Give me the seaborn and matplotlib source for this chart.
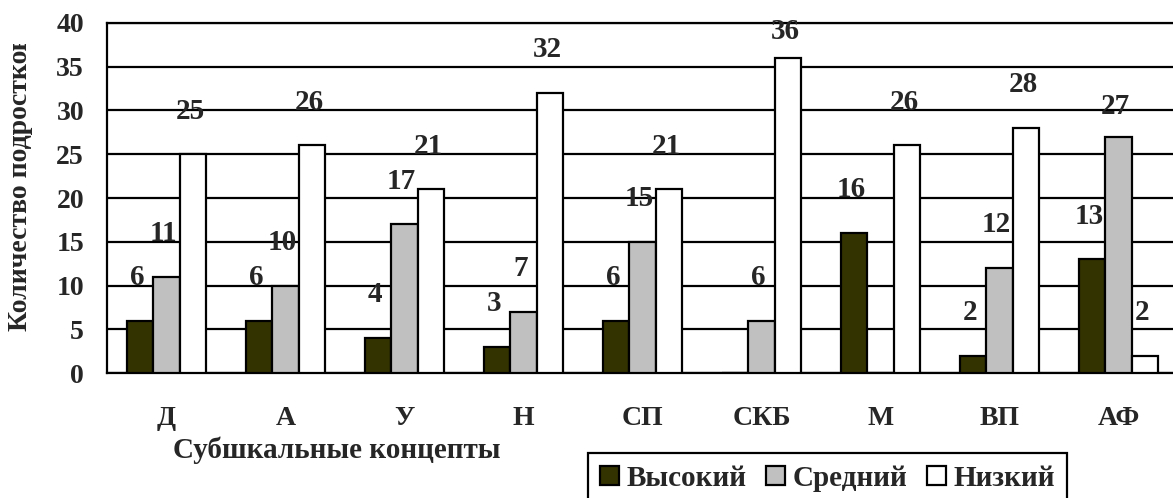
import matplotlib
matplotlib.use("Agg")
import matplotlib.pyplot as plt
from matplotlib.transforms import Bbox, TransformedBbox
import seaborn as sns
import pandas as pd

# Subscale concepts and counts of adolescents per level
concepts = ["Д", "А", "У", "Н", "СП", "СКБ", "М", "ВП", "АФ"]
levels = ["Высокий", "Средний", "Низкий"]
high = [6, 6, 4, 3, 6, 0, 16, 2, 13]
medium = [11, 10, 17, 7, 15, 6, 0, 12, 27]
low = [25, 26, 21, 32, 21, 36, 26, 28, 2]
yticks = [0, 5, 10, 15, 20, 25, 30, 35, 40]

colors = ["#333300", "#C0C0C0", "#FFFFFF"]

df = pd.DataFrame({
    "concept": concepts * 3,
    "level": [lv for lv in levels for _ in concepts],
    "count": high + medium + low,
})

sns.set_style("white")
plt.rcParams["font.family"] = ["Liberation Serif", "DejaVu Serif"]
plt.rcParams["font.weight"] = "bold"

W, H = 1173, 498
fig = plt.figure(figsize=(W / 100, H / 100), dpi=100)
ax = fig.add_axes([107 / W, 1 - 373 / H, 1071 / W, 350 / H])

sns.barplot(data=df, x="concept", y="count", hue="level",
            order=concepts, hue_order=levels, palette=colors,
            saturation=1, width=0.67, edgecolor="black", linewidth=1.6,
            ax=ax, zorder=3)

ax.set_xlim(-0.5, len(concepts) - 0.5)
ax.set_ylim(0, 40)
ax.set_yticks(yticks)
ax.yaxis.grid(True, color="black", linewidth=1.6, zorder=0)
ax.set_axisbelow(True)
for side in ("left", "bottom", "top"):
    ax.spines[side].set_color("black")
    ax.spines[side].set_linewidth(1.6)
ax.spines["right"].set_visible(False)

ax.tick_params(axis="y", direction="out", length=6.5, width=1.6,
               color="black", pad=10, labelsize=20)
ax.tick_params(axis="x", length=0, pad=24, labelsize=20)
for lab in ax.get_xticklabels() + ax.get_yticklabels():
    lab.set_fontweight("bold")
ax.set_xlabel("")
ax.set_ylabel("")

# value labels above each bar
lifts = {("СКБ", "Низкий"): 19, ("АФ", "Средний"): 22}
for level, cont in zip(levels, ax.containers):
    for concept, bar in zip(concepts, cont):
        h = bar.get_height()
        if h == 0:
            continue
        ax.annotate(f"{h:g}", (bar.get_x() + bar.get_width() / 2, h),
                    xytext=(-2, lifts.get((concept, level), 31)),
                    textcoords="offset points", ha="center", va="center",
                    fontsize=21, fontweight="bold", zorder=5)

handles, labels = ax.get_legend_handles_labels()
if ax.get_legend() is not None:
    ax.get_legend().remove()
leg = fig.legend(handles, labels, loc="upper left",
                 bbox_to_anchor=(588 / W, 1 - 453 / H), ncol=3,
                 frameon=True, fancybox=False, framealpha=1,
                 edgecolor="black", fontsize=21, handlelength=0.65,
                 handleheight=0.62, handletextpad=0.28, columnspacing=0.65,
                 borderpad=0.4, borderaxespad=0)
leg.get_frame().set_linewidth(1.6)
for t in leg.get_texts():
    t.set_fontweight("bold")

fig.text(337 / W, 1 - 450 / H, "Субшкальные концепты", ha="center",
         va="center", fontsize=21, fontweight="bold")

# rotated axis title, cut off where it runs past the top of the plot
ylab = fig.text(21 / W, 1 - 331 / H, "Количество подростков", rotation=90,
                ha="center", va="bottom", fontsize=20, fontweight="bold")
ylab.set_clip_box(TransformedBbox(Bbox.from_extents(0, 0, 60 / W, 1 - 44 / H),
                                  fig.transFigure))
ylab.set_clip_on(True)

fig.savefig("out.png", dpi=100)
